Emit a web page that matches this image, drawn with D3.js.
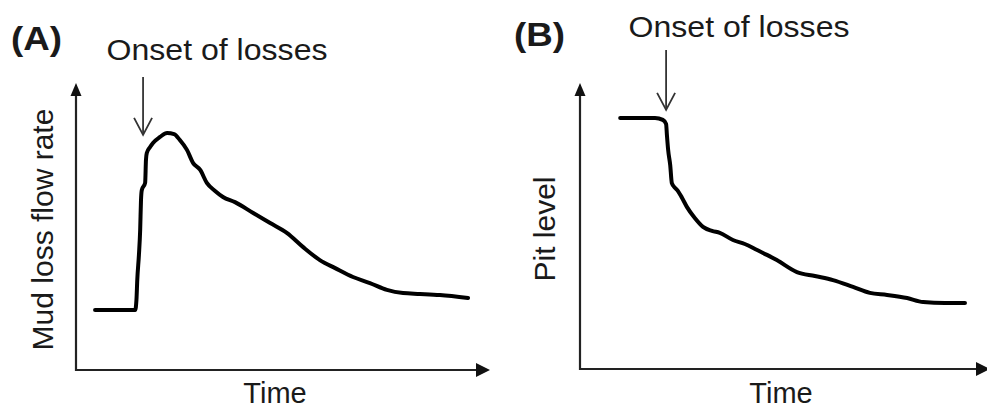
<!DOCTYPE html>
<html>
<head>
<meta charset="utf-8">
<script src="https://cdn.jsdelivr.net/npm/d3@7"></script>
<style>
  body { margin: 0; background: #fff; }
  text { font-family: "Liberation Sans", Arial, sans-serif; fill: #1a1a1a; }
</style>
</head>
<body>
<svg id="fig" width="987" height="408"></svg>
<script>
// panel A: mud loss flow rate vs time (arbitrary units, 0-100)
const timeA = [4.6, 14.3, 14.6, 14.8, 15.2, 15.5, 15.7, 15.9, 16.7, 16.9, 17.1, 17.9, 18.6, 20.3, 22.0, 23.7, 25.1, 26.8, 28.3, 30.0, 31.6, 33.6, 35.5, 38.4, 42.8, 46.9, 51.0, 54.8, 58.9, 62.6, 66.9, 71.0, 75.1, 79.0, 83.1, 87.9, 94.7];
const rateA = [20.9, 20.9, 24.4, 31.4, 40.1, 48.8, 59.2, 62.7, 65.2, 73.2, 75.6, 77.7, 79.1, 81.2, 82.6, 82.2, 80.1, 76.7, 72.1, 69.7, 65.2, 62.4, 60.3, 58.5, 54.7, 51.2, 47.7, 42.9, 38.3, 35.5, 32.4, 30.3, 27.9, 26.8, 26.5, 26.1, 25.1];

// panel B: pit level vs time
const timeB = [9.8, 18.3, 20.2, 21.0, 21.2, 21.5, 22.0, 22.4, 23.2, 23.7, 24.9, 26.1, 28.0, 30.0, 32.2, 34.1, 37.3, 40.2, 43.2, 45.6, 48.0, 52.9, 57.3, 61.7, 66.6, 70.7, 74.9, 79.8, 83.7, 89.0, 93.9];
const levelB = [87.8, 87.8, 87.1, 85.7, 81.8, 76.6, 71.3, 65.0, 63.3, 62.6, 59.8, 56.6, 52.8, 49.7, 48.3, 47.6, 45.1, 43.7, 41.6, 39.9, 38.1, 33.9, 32.5, 31.1, 28.7, 26.6, 25.9, 24.8, 23.4, 23.1, 23.1];

const onsetA = 16.2, onsetB = 21.0;
const labels = ["(A)", "(B)"];
const yTitles = ["Mud loss flow rate", "Pit level"];
const xTitle = "Time";
const noteText = "Onset of losses";

const svg = d3.select("#fig");

const panels = [
  { t: timeA, v: rateA, onset: onsetA, x0: 76, x1: 490, y0: 370, y1: 83,
    lab: [11, 50], note: [217, 60], noteTop: 77, ytx: 53, tx: 275 },
  { t: timeB, v: levelB, onset: onsetB, x0: 580, x1: 990, y0: 369, y1: 83,
    lab: [514, 46], note: [739, 37], noteTop: 50, ytx: 555, tx: 781 }
];

panels.forEach((p, i) => {
  const x = d3.scaleLinear().domain([0, 100]).range([p.x0, p.x1]);
  const y = d3.scaleLinear().domain([0, 100]).range([p.y0, p.y1]);
  const g = svg.append("g");

  // axes with arrow heads
  g.append("line").attr("x1", x(0)).attr("x2", x(100) - 8).attr("y1", y(0)).attr("y2", y(0))
    .attr("stroke", "#222").attr("stroke-width", 2.2);
  g.append("line").attr("x1", x(0)).attr("x2", x(0)).attr("y1", y(0) + 1).attr("y2", y(100) + 8)
    .attr("stroke", "#222").attr("stroke-width", 2.2);
  g.append("path")
    .attr("d", `M${x(100)},${y(0)} L${x(100) - 14},${y(0) - 7} L${x(100) - 14},${y(0) + 7} Z`)
    .attr("fill", "#111");
  g.append("path")
    .attr("d", `M${x(0)},${y(100)} L${x(0) - 5.5},${y(100) + 13} L${x(0) + 5.5},${y(100) + 13} Z`)
    .attr("fill", "#111");

  // curve
  const line = d3.line().x(d => x(d[0])).y(d => y(d[1])).curve(d3.curveMonotoneX);
  g.append("path")
    .datum(d3.zip(p.t, p.v))
    .attr("d", line)
    .attr("fill", "none")
    .attr("stroke", "#000")
    .attr("stroke-width", 4)
    .attr("stroke-linejoin", "round")
    .attr("stroke-linecap", "round");

  // onset arrow, tip just above the curve
  const ax = x(p.onset);
  const tipY = i === 0 ? y(d3.max(p.v)) + 2 : y(p.v[0]) - 8;
  g.append("line").attr("x1", ax).attr("x2", ax).attr("y1", p.noteTop).attr("y2", tipY)
    .attr("stroke", "#333").attr("stroke-width", 1.8);
  g.append("path")
    .attr("d", `M${ax - 9},${tipY - 17} L${ax},${tipY} L${ax + 9},${tipY - 17}`)
    .attr("fill", "none").attr("stroke", "#333").attr("stroke-width", 1.8);

  // texts
  g.append("text").attr("x", p.lab[0]).attr("y", p.lab[1])
    .attr("font-size", 33).attr("font-weight", "bold")
    .attr("textLength", 51).attr("lengthAdjust", "spacingAndGlyphs").text(labels[i]);
  g.append("text").attr("x", p.note[0]).attr("y", p.note[1])
    .attr("text-anchor", "middle").attr("font-size", 30)
    .attr("textLength", 221).attr("lengthAdjust", "spacingAndGlyphs").text(noteText);
  g.append("text").attr("x", p.tx).attr("y", 403)
    .attr("text-anchor", "middle").attr("font-size", 29).text(xTitle);
  g.append("text")
    .attr("transform", `translate(${p.ytx},${(p.y0 + p.y1) / 2 + 3}) rotate(-90)`)
    .attr("text-anchor", "middle").attr("font-size", 30).text(yTitles[i]);
});
</script>
</body>
</html>
